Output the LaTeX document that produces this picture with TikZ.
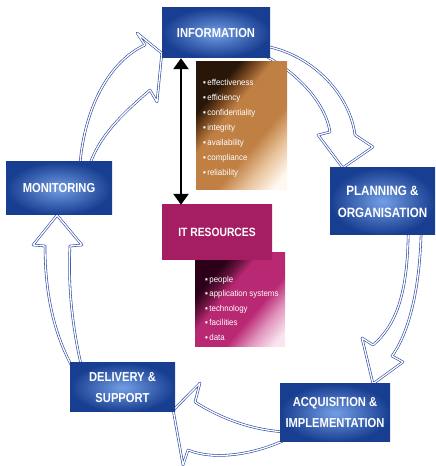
\documentclass[tikz,border=0pt]{standalone}
\usepackage{fontspec}
\newfontfamily\boxfont[FakeStretch=0.86]{Liberation Sans}
\newfontfamily\listfont[FakeStretch=0.92]{Liberation Sans}
\usetikzlibrary{positioning,arrows.meta,backgrounds}

\definecolor{cobdark}{RGB}{24,62,145}
\definecolor{coblight}{RGB}{115,158,228}
\definecolor{arrblue}{RGB}{40,70,165}
\definecolor{magdark}{RGB}{165,30,100}
\definecolor{maglight}{RGB}{220,125,175}
\definecolor{magdeep}{RGB}{45,0,25}
\definecolor{magmid}{RGB}{185,40,115}
\definecolor{magsoft}{RGB}{225,150,190}
\definecolor{magpale}{RGB}{250,228,240}
\definecolor{ochdeep}{RGB}{40,22,8}
\definecolor{ochbrown}{RGB}{120,72,32}
\definecolor{ochmid}{RGB}{192,128,68}
\definecolor{ochsoft}{RGB}{232,195,155}
\definecolor{ochpale}{RGB}{255,248,238}

\pgfdeclareverticalshading{ochre}{100bp}{color(0bp)=(ochpale); color(20bp)=(ochpale);
  color(30bp)=(ochsoft); color(40bp)=(ochmid); color(58bp)=(ochmid);
  color(64bp)=(ochbrown); color(70bp)=(ochdeep); color(100bp)=(ochdeep)}
\pgfdeclareverticalshading{berry}{100bp}{color(0bp)=(magpale); color(20bp)=(magpale);
  color(30bp)=(magsoft); color(40bp)=(magmid); color(58bp)=(magmid);
  color(64bp)=(magdark!60!black); color(70bp)=(magdeep); color(100bp)=(magdeep)}

\begin{document}
\begin{tikzpicture}[x=1pt,y=1pt,
            blk/.style={
              minimum width=106pt,
              minimum height=52pt,
              inner color=coblight,
              outer color=cobdark,
              text=white,
              align=center,
              font=\boxfont\bfseries\fontsize{13}{21}\selectfont
            },
            lst/.style={
              minimum width=91pt,
              inner sep=0pt,
              shade,
              shading angle=50
            },
            itm/.style={
              text=white,
              align=left,
              inner sep=0pt,
              anchor=north west,
              font=\listfont\fontsize{8.6}{15}\selectfont
            },
            cyc/.style={
              draw=arrblue,
              line width=0.6pt,
              double=white,
              double distance=1.3pt,
              fill=white,
              line join=round
            },
            dbl/.style={
              {Triangle[length=11pt,width=15pt]}-{Triangle[length=11pt,width=15pt]},
              line width=2.6pt
            }
            ]
            \useasboundingbox (0,0) rectangle (436,466);

            % the five processes
            \node[blk,minimum width=108pt,minimum height=50pt] (info) at (216,433)
              {INFORMATION};
            \node[blk,minimum width=105pt,minimum height=67pt,
              font=\boxfont\bfseries\fontsize{13.5}{22}\selectfont] (plan) at (382.5,264.5)
              {PLANNING \&\\ORGANISATION};
            \node[blk,minimum width=110pt,minimum height=58pt] (acq) at (335,53)
              {ACQUISITION \&\\IMPLEMENTATION};
            \node[blk,minimum width=105pt,minimum height=49pt] (deliv) at (122.5,78.5)
              {DELIVERY \&\\SUPPORT};
            \node[blk,minimum width=106pt,minimum height=53pt] (mon) at (59,277.5)
              {MONITORING};

            % criteria and resources
            \node[lst,minimum height=128pt,shading=ochre] (qual) at (241.5,340) {};
            \node[itm] (qualtxt) at (203,387)
              {▪\,effectiveness\\▪\,efficiency\\▪\,confidentiality\\▪\,integrity\\
               ▪\,availability\\▪\,compliance\\▪\,reliability};

            \node[lst,minimum width=90pt,minimum height=94pt,shading=berry] (res) at (240,166) {};
            \node[itm,font=\listfont\fontsize{8.6}{14.5}\selectfont] (restxt) at (205,190)
              {▪\,people\\▪\,application systems\\▪\,technology\\▪\,facilities\\▪\,data};

            \node[blk,minimum width=110pt,minimum height=55pt,
              left color=magdark,middle color=maglight,right color=magdark,
              font=\boxfont\bfseries\fontsize{12}{20}\selectfont] (itres) at (217,233.5)
              {IT RESOURCES};

            \draw[dbl] ([xshift=-35pt]info.south) -- ([xshift=-36pt]itres.north);

            % the cycle
            \begin{scope}[on background layer]
            \draw[cyc] ([shift={(-8pt,4pt)}]info.south east)
              .. controls (295,395) and (325,365) .. (330,334) -- (318,331)
              -- ([xshift=13pt]plan.north west) -- (373,319) -- (355,331)
              .. controls (350,370) and (315,410) .. ([shift={(-4pt,12pt)}]info.south east)
              -- cycle;
            \draw[cyc] ([shift={(-27pt,5pt)}]plan.south east)
              .. controls (408,170) and (395,140) .. (373,121) -- (362,128)
              -- ([xshift=38pt]acq.north) -- (403,104) -- (392,110)
              .. controls (410,135) and (420,180) .. ([shift={(-14pt,5pt)}]plan.south east)
              -- cycle;
            \draw[cyc] ([shift={(5pt,-19pt)}]acq.west)
              .. controls (255,36) and (225,45) .. (195,64) -- (200,83)
              -- ([shift={(-2pt,2pt)}]deliv.south east) -- (183,1) -- (188,16)
              .. controls (215,5) and (255,12) .. ([shift={(5pt,-27pt)}]acq.west)
              -- cycle;
            \draw[cyc] ([shift={(12pt,-5pt)}]deliv.north west)
              .. controls (72,140) and (68,180) .. (70,220) -- (82,221)
              -- ([xshift=-2pt]mon.south) -- (33,221) -- (45,220)
              .. controls (45,170) and (55,130) .. ([shift={(3pt,-5pt)}]deliv.north west)
              -- cycle;
            \draw[cyc] ([shift={(21pt,-2pt)}]mon.north)
              .. controls (85,360) and (110,405) .. (145,421) -- (137,433)
              -- ([yshift=5pt]info.south west) -- (157,364) -- (150,376)
              .. controls (120,350) and (100,330) .. ([shift={(31pt,-2pt)}]mon.north)
              -- cycle;
            \end{scope}
\end{tikzpicture}
\end{document}
